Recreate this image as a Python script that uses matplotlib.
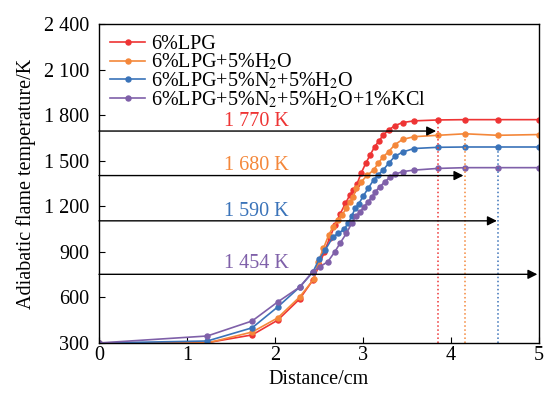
import numpy as np
import matplotlib
matplotlib.use("Agg")
import matplotlib.pyplot as plt

plt.rcParams['font.family'] = ['Liberation Serif', 'DejaVu Serif']
plt.rcParams['mathtext.fontset'] = 'stix'

# data
x_lpg = [0, 1.23, 1.74, 2.03, 2.28, 2.43, 2.50, 2.56, 2.62, 2.68, 2.74, 2.80, 2.85, 2.89, 2.93,
         2.98, 3.03, 3.08, 3.13, 3.18, 3.23, 3.29, 3.36, 3.45, 3.58, 3.85, 4.16, 4.53, 5.0]
t_lpg = [300, 302, 353, 450, 590, 714, 810, 900, 990, 1076, 1150, 1219, 1274, 1307, 1345,
         1420, 1482, 1537, 1590, 1630, 1669, 1702, 1730, 1751, 1762, 1768, 1770, 1770, 1770]

x_h2o = [0, 1.23, 1.74, 2.03, 2.28, 2.44, 2.49, 2.55, 2.61, 2.66, 2.72, 2.76, 2.81, 2.85, 2.89,
         2.92, 2.98, 3.05, 3.12, 3.17, 3.23, 3.29, 3.36, 3.45, 3.58, 3.85, 4.16, 4.53, 5.0]
t_h2o = [300, 300, 372, 465, 603, 720, 835, 923, 1011, 1065, 1109, 1142, 1186, 1230, 1260,
         1318, 1362, 1405, 1438, 1482, 1526, 1559, 1605, 1640, 1658, 1667, 1677, 1667, 1672]

x_n2 = [0, 1.23, 1.74, 2.03, 2.28, 2.43, 2.50, 2.57, 2.66, 2.72, 2.78, 2.83, 2.87, 2.91,
        2.95, 3.00, 3.06, 3.12, 3.17, 3.23, 3.29, 3.36, 3.45, 3.58, 3.85, 4.16, 4.53, 5.0]
t_n2 = [300, 313, 400, 537, 668, 767, 850, 912, 1000, 1021, 1047, 1087, 1133, 1186,
        1215, 1265, 1320, 1373, 1405, 1440, 1482, 1528, 1557, 1580, 1588, 1590, 1590, 1590]

x_kcl = [0, 1.23, 1.74, 2.03, 2.28, 2.43, 2.51, 2.60, 2.68, 2.74, 2.81, 2.87, 2.92, 2.97,
         3.01, 3.06, 3.10, 3.14, 3.19, 3.25, 3.31, 3.36, 3.45, 3.58, 3.85, 4.16, 4.53, 5.0]
t_kcl = [300, 346, 445, 570, 668, 770, 802, 835, 901, 958, 1021, 1087, 1136, 1164,
         1197, 1230, 1263, 1296, 1329, 1362, 1394, 1410, 1428, 1438, 1449, 1454, 1454, 1454]

labels = ["6%LPG", "6%LPG+5%H$_2$O", "6%LPG+5%N$_2$+5%H$_2$O", "6%LPG+5%N$_2$+5%H$_2$O+1%KCl"]
colors = ["#ee3434", "#f4873a", "#3a73b9", "#7f60a9"]

peak_text = ["1 770 K", "1 680 K", "1 590 K", "1 454 K"]
peak_text_y = [1760, 1471, 1164, 826]
arrow_y = [1695, 1402, 1104, 752]
arrow_end = [3.83, 4.14, 4.52, 4.98]
drop_x = [3.85, 4.16, 4.53]
drop_top = [1768, 1677, 1590]

yticks = [300, 600, 900, 1200, 1500, 1800, 2100, 2400]

fs = 14.5

fig = plt.figure(figsize=(5.44, 3.99), dpi=100)
ax = fig.add_axes([0.182, 0.1404, 0.809, 0.7996])

series = [(x_lpg, t_lpg), (x_h2o, t_h2o), (x_n2, t_n2), (x_kcl, t_kcl)]
for (xs, ts), c, lab in zip(series, colors, labels):
    ax.plot(xs, ts, color=c, lw=1.2, marker='o', ms=3.6, label=lab)

# arrows and peak labels
for y, xe in zip(arrow_y, arrow_end):
    ax.annotate("", xy=(xe, y), xytext=(0, y),
                arrowprops=dict(arrowstyle='-|>', color='k', lw=1.0, mutation_scale=14,
                                shrinkA=0, shrinkB=0))
for s, y, c in zip(peak_text, peak_text_y, colors):
    ax.text(1.79, y, s, color=c, fontsize=fs, ha='center', va='center')
for xd, yt, c in zip(drop_x, drop_top, colors):
    ax.plot([xd, xd], [300, yt], ls=':', color=c, lw=1.1)

ax.set_xlim(0, 5)
ax.set_ylim(300, 2400)
ax.set_xticks(range(6))
ax.set_yticks(yticks)
ax.set_yticklabels(["{:,}".format(v).replace(",", " ") for v in yticks])
ax.tick_params(direction='in', length=4, labelsize=fs, width=0.8)
ax.tick_params(axis='y', pad=7)
ax.tick_params(axis='x', pad=2)
for sp in ax.spines.values():
    sp.set_linewidth(1.0)
ax.set_xlabel("Distance/cm", fontsize=fs, labelpad=4)
ax.set_ylabel("Adiabatic flame temperature/K", fontsize=fs, labelpad=6)

ax.legend(loc='upper left', frameon=False, fontsize=fs, handlelength=1.75,
          labelspacing=-0.1, handletextpad=0.3, borderaxespad=0.1, borderpad=0.45)

fig.savefig("out.png", dpi=100)
